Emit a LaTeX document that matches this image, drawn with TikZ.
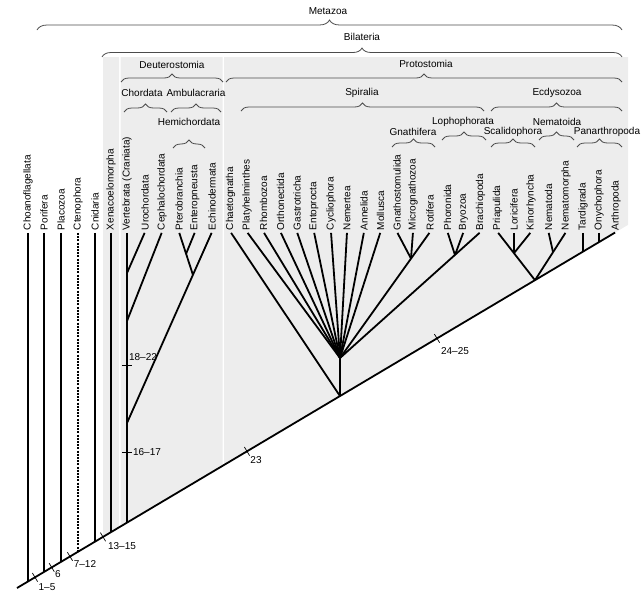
\documentclass[tikz,border=0pt]{standalone}
\usepackage{fontspec}
\setmainfont{Liberation Sans}
\usepackage{tikz}
\usetikzlibrary{decorations.pathreplacing}

\begin{document}
\begin{tikzpicture}[x=1pt,y=-1pt,line width=1.8pt,font=\fontsize{10}{12}\selectfont]
\tikzstyle{leaf}=[inner sep=0,minimum size=0,label distance=3pt]
\tikzstyle{taxon}=[rotate=90,anchor=west,inner sep=0]
\tikzstyle{clade}=[inner sep=0]
\tikzstyle{bracket}=[decorate,decoration={brace,amplitude=8pt},line width=0.8pt,black!70]
\tikzstyle{cladebox}=[fill=black!7]
\tikzstyle{trait}=[line width=0.7pt]
\tikzstyle{num}=[inner sep=0]
\useasboundingbox (0,0) rectangle (643,595);
% shaded boxes
\fill[cladebox] (103,57) -- (119,57) -- (119,527.4) -- (103,536.9) -- cycle;
\fill[cladebox] (120.5,57) -- (222.5,57) -- (222.5,465.9) -- (120.5,526.5) -- cycle;
\fill[cladebox] (224,57) -- (628,57) -- (628,224.9) -- (224,465.0) -- cycle;
% braces
\draw[bracket,decoration={amplitude=10pt}] (37,30) -- (622,30);
\draw[bracket,decoration={amplitude=9pt}] (102,57) -- (622,57);
\draw[bracket] (121,82) -- (223,82);
\draw[bracket] (226,82) -- (622,82);
\draw[bracket] (124,112) -- (167,112);
\draw[bracket] (171,112) -- (221,112);
\draw[bracket] (241,111) -- (484,111);
\draw[bracket] (491,111) -- (622,111);
\draw[bracket] (173,148) -- (205,148);
\draw[bracket] (442,140) -- (486,140);
\draw[bracket] (539,140) -- (574,140);
\draw[bracket] (392,147) -- (435,147);
\draw[bracket] (491,147) -- (535,147);
\draw[bracket] (577,147) -- (622,147);
\node[clade] (metaz) at (328,11) {Metazoa};
\node[clade] (bilat) at (362,37) {Bilateria};
\node[clade] (deute) at (172,65) {Deuterostomia};
\node[clade] (proto) at (426,64) {Protostomia};
\node[clade] (chord) at (142,93) {Chordata};
\node[clade] (ambul) at (196,93) {Ambulacraria};
\node[clade] (spira) at (362,93) {Spiralia};
\node[clade] (ecdys) at (557,93) {Ecdysozoa};
\node[clade] (hemic) at (189,122) {Hemichordata};
\node[clade] (lopho) at (463,122) {Lophophorata};
\node[clade] (nemat) at (557,122) {Nematoida};
\node[clade] (gnath) at (413,132) {Gnathifera};
\node[clade] (scali) at (513,132) {Scalidophora};
\node[clade] (panar) at (607,132) {Panarthropoda};
% leaves
\node[leaf,label={[taxon]above:Choanoflagellata}] (choa) at (28,232) {};
\node[leaf,label={[taxon]above:Porifera}] (pori) at (44,232) {};
\node[leaf,label={[taxon]above:Placozoa}] (plac) at (61,232) {};
\node[leaf,label={[taxon]above:Ctenophora}] (cten) at (78,232) {};
\node[leaf,label={[taxon]above:Cnidaria}] (cnid) at (95,232) {};
\node[leaf,label={[taxon]above:Xenacoelomorpha}] (xena) at (111,232) {};
\node[leaf,label={[taxon]above:Vertebrata (Craniata)}] (vert) at (127,232) {};
\node[leaf,label={[taxon]above:Urochordata}] (uroc) at (145,232) {};
\node[leaf,label={[taxon]above:Cephalochordata}] (ceph) at (162,232) {};
\node[leaf,label={[taxon]above:Pterobranchia}] (pter) at (179,232) {};
\node[leaf,label={[taxon]above:Enteropneusta}] (ente) at (195,232) {};
\node[leaf,label={[taxon]above:Echinodermata}] (echi) at (212,232) {};
\node[leaf,label={[taxon]above:Chaetognatha}] (chae) at (230.5,232) {};
\node[leaf,label={[taxon]above:Platyhelminthes}] (plat) at (247,232) {};
\node[leaf,label={[taxon]above:Rhombozoa}] (rhom) at (263.5,232) {};
\node[leaf,label={[taxon]above:Orthonectida}] (orth) at (280.5,232) {};
\node[leaf,label={[taxon]above:Gastrotricha}] (gast) at (297,232) {};
\node[leaf,label={[taxon]above:Entoprocta}] (ento) at (314,232) {};
\node[leaf,label={[taxon]above:Cycliophora}] (cycl) at (331,232) {};
\node[leaf,label={[taxon]above:Nemertea}] (nemr) at (347,232) {};
\node[leaf,label={[taxon]above:Annelida}] (anne) at (364,232) {};
\node[leaf,label={[taxon]above:Mollusca}] (moll) at (380.5,232) {};
\node[leaf,label={[taxon]above:Gnathostomulida}] (gnat) at (397,232) {};
\node[leaf,label={[taxon]above:Micrognathozoa}] (micr) at (413,232) {};
\node[leaf,label={[taxon]above:Rotifera}] (roti) at (430,232) {};
\node[leaf,label={[taxon]above:Phoronida}] (phor) at (447.5,232) {};
\node[leaf,label={[taxon]above:Bryozoa}] (bryo) at (463.5,232) {};
\node[leaf,label={[taxon]above:Brachiopoda}] (brac) at (480.5,232) {};
\node[leaf,label={[taxon]above:Priapulida}] (pria) at (497.5,232) {};
\node[leaf,label={[taxon]above:Loricifera}] (lori) at (514,232) {};
\node[leaf,label={[taxon]above:Kinorhyncha}] (kino) at (531,232) {};
\node[leaf,label={[taxon]above:Nematoda}] (nemd) at (548.5,232) {};
\node[leaf,label={[taxon]above:Nematomorpha}] (nemm) at (566,232) {};
\node[leaf,label={[taxon]above:Tardigrada}] (tard) at (583,232) {};
\node[leaf,label={[taxon]above:Onychophora}] (onyc) at (599,232) {};
\node[leaf,label={[taxon]above:Arthropoda}] (arth) at (616,232) {};
% points on the stem
\coordinate (root) at (17,588);
\coordinate (bchoa) at (28,581.5);
\coordinate (bpori) at (44,572.0);
\coordinate (bplac) at (61,561.9);
\coordinate (bcten) at (78,551.7);
\coordinate (bcnid) at (95,541.6);
\coordinate (bxena) at (111,532.1);
\coordinate (bbila) at (127,522.6);
\coordinate (spir) at (340,396.0);
\coordinate (ecdy) at (535,280.2);
\coordinate (btard) at (583,251.6);
\coordinate (bonyc) at (599,242.1);
% inner nodes
\coordinate (urop) at (127,273);
\coordinate (chrd) at (127,321);
\coordinate (deut) at (127,423);
\coordinate (ambu) at (193,275);
\coordinate (hemi) at (186,254);
\coordinate (spst) at (340,358);
\coordinate (gnth) at (411,258.5);
\coordinate (loph) at (455,255);
\coordinate (scal) at (514,253.1);
\coordinate (nmtd) at (553,252);
% tree
\draw (root) -- (arth);
\draw (choa) -- (bchoa);
\draw (pori) -- (bpori);
\draw (plac) -- (bplac);
\draw[dash pattern=on 2pt off 1.2pt] (cten) -- (bcten);
\draw (cnid) -- (bcnid);
\draw (xena) -- (bxena);
\draw (vert) -- (bbila);
\draw (uroc) -- (urop);
\draw (ceph) -- (chrd);
\draw (echi) -- (deut);
\draw (pter) -- (ambu);
\draw (ente) -- (hemi);
\draw (chae) -- (spir);
\draw (spir) -- (spst);
\draw (plat) -- (spst);
\draw (rhom) -- (spst);
\draw (orth) -- (spst);
\draw (gast) -- (spst);
\draw (ento) -- (spst);
\draw (cycl) -- (spst);
\draw (nemr) -- (spst);
\draw (anne) -- (spst);
\draw (moll) -- (spst);
\draw (roti) -- (spst);
\draw (gnat) -- (gnth);
\draw (micr) -- (gnth);
\draw (brac) -- (spst);
\draw (phor) -- (loph);
\draw (bryo) -- (loph);
\draw (pria) -- (ecdy);
\draw (lori) -- (scal);
\draw (kino) -- (scal);
\draw (nemm) -- (ecdy);
\draw (nemd) -- (nmtd);
\draw (tard) -- (btard);
\draw (onyc) -- (bonyc);
% character marks
\coordinate (m1) at (35,577.3);
\coordinate (m2) at (51.7,567.4);
\coordinate (m3) at (70,556.5);
\coordinate (m4) at (103,536.9);
\coordinate (m5) at (247,451.3);
\coordinate (m6) at (437,338.4);
\coordinate (m7) at (127,452);
\coordinate (m8) at (127,365);
\draw[trait] (m1) ++(-2.6,-4.3) -- ++(5.2,8.6);
\draw[trait] (m2) ++(-2.6,-4.3) -- ++(5.2,8.6);
\draw[trait] (m3) ++(-2.6,-4.3) -- ++(5.2,8.6);
\draw[trait] (m4) ++(-2.6,-4.3) -- ++(5.2,8.6);
\draw[trait] (m5) ++(-2.6,-4.3) -- ++(5.2,8.6);
\draw[trait] (m6) ++(-2.6,-4.3) -- ++(5.2,8.6);
\draw[trait] (m7) ++(-5,0) -- ++(10,0);
\draw[trait] (m8) ++(-5,0) -- ++(10,0);
\node[num] (c1) at (47,587) {1–5};
\node[num] (c2) at (58,574) {6};
\node[num] (c3) at (85,564) {7–12};
\node[num] (c4) at (122,546) {13–15};
\node[num] (c5) at (256,460) {23};
\node[num] (c6) at (455,351) {24–25};
\node[num] (c7) at (147,452) {16–17};
\node[num] (c8) at (143,357) {18–22};
\end{tikzpicture}
\end{document}
